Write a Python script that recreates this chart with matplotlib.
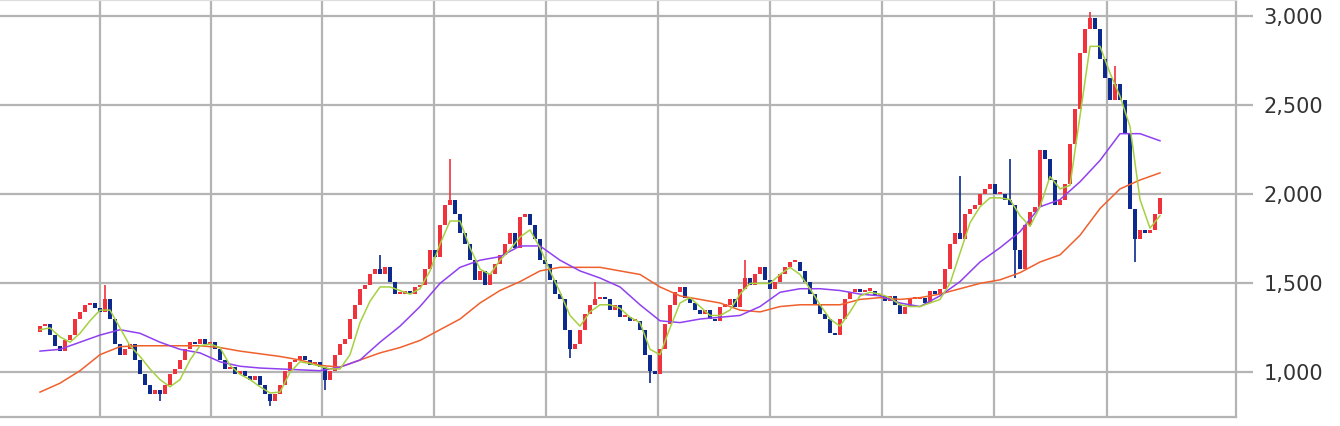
import matplotlib
matplotlib.use("Agg")
import matplotlib.pyplot as plt
import numpy as np

# weekly-ish closes (oldest first)
closes = [
    1260, 1270, 1210, 1150, 1120, 1180, 1210, 1300, 1340, 1380,
    1390, 1360, 1340, 1410, 1300, 1160, 1100, 1130, 1160, 1070,
    990, 930, 880, 900, 880, 930, 990, 1020, 1070, 1130,
    1170, 1160, 1190, 1160, 1170, 1130, 1070, 1020, 1030, 990,
    1010, 980, 960, 980, 930, 880, 840, 880, 930, 1010,
    1060, 1070, 1090, 1070, 1040, 1060, 1030, 960, 1010, 1100,
    1160, 1190, 1300, 1380, 1470, 1490, 1550, 1580, 1550, 1590,
    1510, 1440, 1440, 1460, 1440, 1480, 1490, 1580, 1690, 1650,
    1830, 1940, 1970, 1890, 1780, 1720, 1630, 1520, 1570, 1490,
    1550, 1610, 1660, 1720, 1780, 1700, 1870, 1890, 1830, 1750,
    1630, 1610, 1520, 1440, 1410, 1240, 1130, 1160, 1240, 1330,
    1380, 1410, 1420, 1410, 1350, 1380, 1310, 1310, 1290, 1290,
    1240, 1100, 1010, 990, 1130, 1270, 1380, 1450, 1480, 1420,
    1390, 1350, 1330, 1350, 1300, 1290, 1370, 1380, 1410, 1370,
    1470, 1530, 1490, 1550, 1590, 1520, 1470, 1510, 1550, 1590,
    1620, 1620, 1570, 1510, 1440, 1380, 1330, 1300, 1220, 1210,
    1300, 1410, 1450, 1470, 1450, 1460, 1460, 1430, 1430, 1400,
    1430, 1380, 1330, 1370, 1410, 1410, 1420, 1390, 1460, 1440,
    1470, 1580, 1720, 1780, 1750, 1890, 1920, 1940, 2000, 2030,
    2060, 2000, 2000, 1970, 1940, 1690, 1580, 1830, 1900, 1930,
    2250, 2200, 2080, 1940, 1970, 2060, 2280, 2480, 2790, 2930,
    2990, 2930, 2760, 2650, 2530, 2620, 2530, 2340, 1920, 1750,
    1800, 1780, 1800, 1890, 1980,
]
first_open = 1230

# long wicks (candle index -> price)
high_spikes = {13: 1490, 68: 1660, 82: 2200, 111: 1510, 141: 1630,
               184: 2100, 194: 2200, 210: 3020, 215: 2720}
low_spikes = {24: 840, 46: 810, 57: 900, 106: 1080, 122: 940,
              195: 1530, 219: 1620}

# moving averages
ma_short = [
    1240, 1250, 1200, 1170, 1220, 1290, 1350, 1350, 1250, 1150,
    1090, 1020, 960, 920, 960, 1070, 1150, 1160, 1140, 1040,
    990, 960, 920, 885, 890, 1000, 1060, 1050, 1035, 1020,
    1020, 1100, 1280, 1400, 1480, 1480, 1460, 1440, 1470, 1570,
    1720, 1850, 1850, 1700, 1580, 1550, 1630, 1690, 1760, 1800,
    1700, 1570, 1450, 1320, 1260, 1340, 1380, 1380, 1360, 1310,
    1280, 1130, 1100, 1250, 1390, 1420, 1370, 1320, 1320, 1350,
    1440, 1500, 1500, 1500, 1550, 1590, 1550, 1470, 1380, 1300,
    1260, 1340, 1430, 1450, 1440, 1420, 1380, 1370, 1370, 1390,
    1410, 1500, 1670, 1840, 1930, 1980, 1980, 1970, 1880, 1820,
    1930, 2100, 2030, 2050, 2440, 2830, 2830, 2680, 2550, 2380,
    1970, 1810, 1880,
]
ma_mid = [
    1120, 1130, 1170, 1210, 1240, 1220, 1170, 1130, 1110, 1060,
    1035, 1025, 1020, 1015, 1010, 1030, 1070, 1170, 1260, 1370,
    1500, 1590, 1630, 1650, 1710, 1710, 1630, 1570, 1530, 1480,
    1380, 1290, 1280, 1300, 1310, 1320, 1370, 1450, 1470, 1470,
    1460, 1440, 1430, 1390, 1370, 1430, 1510, 1620, 1700, 1790,
    1930, 1970, 2070, 2190, 2340, 2340, 2300,
]
ma_long = [
    890, 940, 1010, 1100, 1145, 1150, 1150, 1150, 1150, 1140,
    1120, 1105, 1090, 1070, 1040, 1030, 1070, 1110, 1140, 1180,
    1240, 1300, 1390, 1460, 1510, 1570, 1590, 1590, 1590, 1570,
    1550, 1480, 1430, 1410, 1390, 1350, 1340, 1370, 1380, 1380,
    1380, 1410, 1420, 1410, 1420, 1440, 1470, 1500, 1520, 1560,
    1620, 1660, 1770, 1920, 2030, 2080, 2120,
]

yticks = [1000, 1500, 2000, 2500, 3000]
vgrid = [12, 34.2, 56.4, 78.8, 101.2, 123.6, 146, 168.4, 190.8, 213.4]

up_color = "#f0323c"
down_color = "#0c2a8e"
grid_color = "#b4b4b4"

closes = np.array(closes, dtype=float)
opens = np.concatenate([[first_open], closes[:-1]])
idx = np.arange(len(closes))
highs = np.maximum(opens, closes)
lows = np.minimum(opens, closes)
for k, v in high_spikes.items():
    highs[k] = v
for k, v in low_spikes.items():
    lows[k] = v
colors = [up_color if c >= o else down_color for o, c in zip(opens, closes)]

fig = plt.figure(figsize=(13.4, 4.26), dpi=100)
ax = fig.add_axes([0.0, 0.021, 0.9224, 0.979])

# candles: wick + body (thin bodies get a minimum visible height)
body_h = np.maximum(np.abs(closes - opens), 12)
ax.vlines(idx, lows, highs, colors=colors, linewidth=1.2, zorder=3)
ax.bar(idx, body_h, bottom=np.minimum(opens, closes),
       width=0.9, color=colors, linewidth=0, zorder=3)

x_short = np.arange(0, len(closes), 2)[:len(ma_short)]
x_long = np.arange(0, len(closes), 4)[:len(ma_mid)]
ax.plot(x_long, ma_long, color="#f0602c", linewidth=1.1, zorder=4)
ax.plot(x_long, ma_mid, color="#9040f0", linewidth=1.1, zorder=4)
ax.plot(x_short, ma_short, color="#a6d040", linewidth=1.1, zorder=4)

ax.set_xlim(-8, 239.2)
ax.set_ylim(750, 3090)

ax.set_xticks(vgrid)
ax.set_yticks(yticks)
ax.set_yticklabels([f"{v:,}" for v in yticks])
ax.yaxis.tick_right()
ax.tick_params(axis="y", length=12, width=1.6, color=grid_color, pad=8,
               labelsize=15, labelcolor="#333333")
ax.tick_params(axis="x", length=0, labelbottom=False)
ax.grid(True, color=grid_color, linewidth=1.6, zorder=0)
ax.set_axisbelow(True)

for side in ["top", "right", "bottom"]:
    ax.spines[side].set_color(grid_color)
    ax.spines[side].set_linewidth(1.6)
ax.spines["left"].set_visible(False)
ax.spines["top"].set_color("#dddddd")

fig.savefig("out.png", dpi=100)
